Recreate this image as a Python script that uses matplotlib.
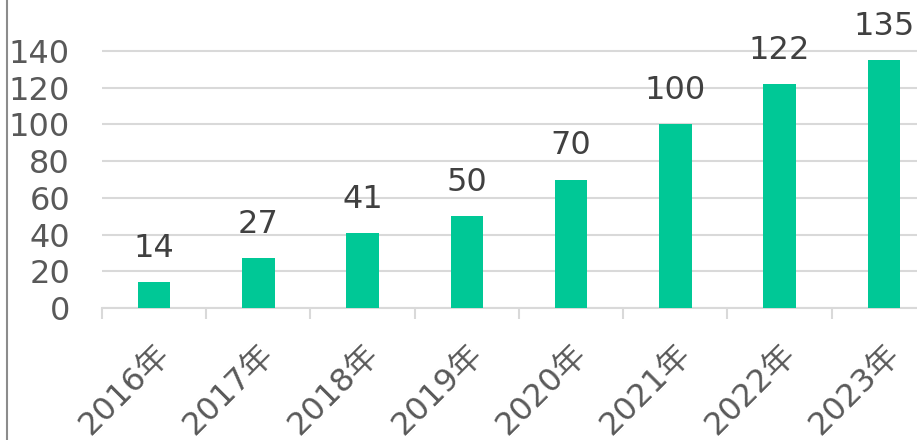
import matplotlib
matplotlib.use("Agg")
import matplotlib.pyplot as plt
from matplotlib.lines import Line2D

# données
annees = ["2016年", "2017年", "2018年", "2019年", "2020年", "2021年", "2022年", "2023年"]
valeurs = [14, 27, 41, 50, 70, 100, 122, 135]
graduations = [0, 20, 40, 60, 80, 100, 120, 140]

police = ["DejaVu Sans", "Noto Sans CJK JP"]
vert = "#00C896"
gris_grille = "#D9D9D9"

fig = plt.figure(figsize=(9.17, 4.4), dpi=100)
ax = fig.add_axes([0.1112, 0.3, 0.9095, 0.6257])

x = list(range(len(annees)))
ax.bar(x, valeurs, width=0.31, color=vert, zorder=3)

ax.set_xlim(-0.5, len(annees) - 0.5)
ax.set_ylim(0, 150)
ax.set_yticks(graduations)
ax.set_yticklabels([str(g) for g in graduations], fontsize=23, color="#595959", family=police)
ax.yaxis.grid(True, color=gris_grille, linewidth=1.5, zorder=0)
ax.tick_params(axis="y", length=0, pad=23)

ax.set_xticks(x)
ax.set_xticklabels(annees, rotation=45, ha="right", rotation_mode="anchor",
                   fontsize=23, color="#595959", family=police)
ax.tick_params(axis="x", which="major", length=0, pad=22)
ax.set_xticks([i - 0.5 for i in range(len(annees) + 1)], minor=True)
ax.tick_params(axis="x", which="minor", length=8, width=1.5, color=gris_grille)

for cote in ["left", "right", "top"]:
    ax.spines[cote].set_visible(False)
ax.spines["bottom"].set_color(gris_grille)
ax.spines["bottom"].set_linewidth(1.5)

for xi, v in zip(x, valeurs):
    ax.annotate(str(v), (xi, v), xytext=(0, 13), textcoords="offset points",
                ha="center", va="bottom", fontsize=23, color="#404040",
                family=police, annotation_clip=False, clip_on=False)

# bordure gauche du cadre
fig.add_artist(Line2D([7 / 917, 7 / 917], [0, 1], color="#8C8C8C", linewidth=1.5))

fig.savefig("out.png", dpi=100)
